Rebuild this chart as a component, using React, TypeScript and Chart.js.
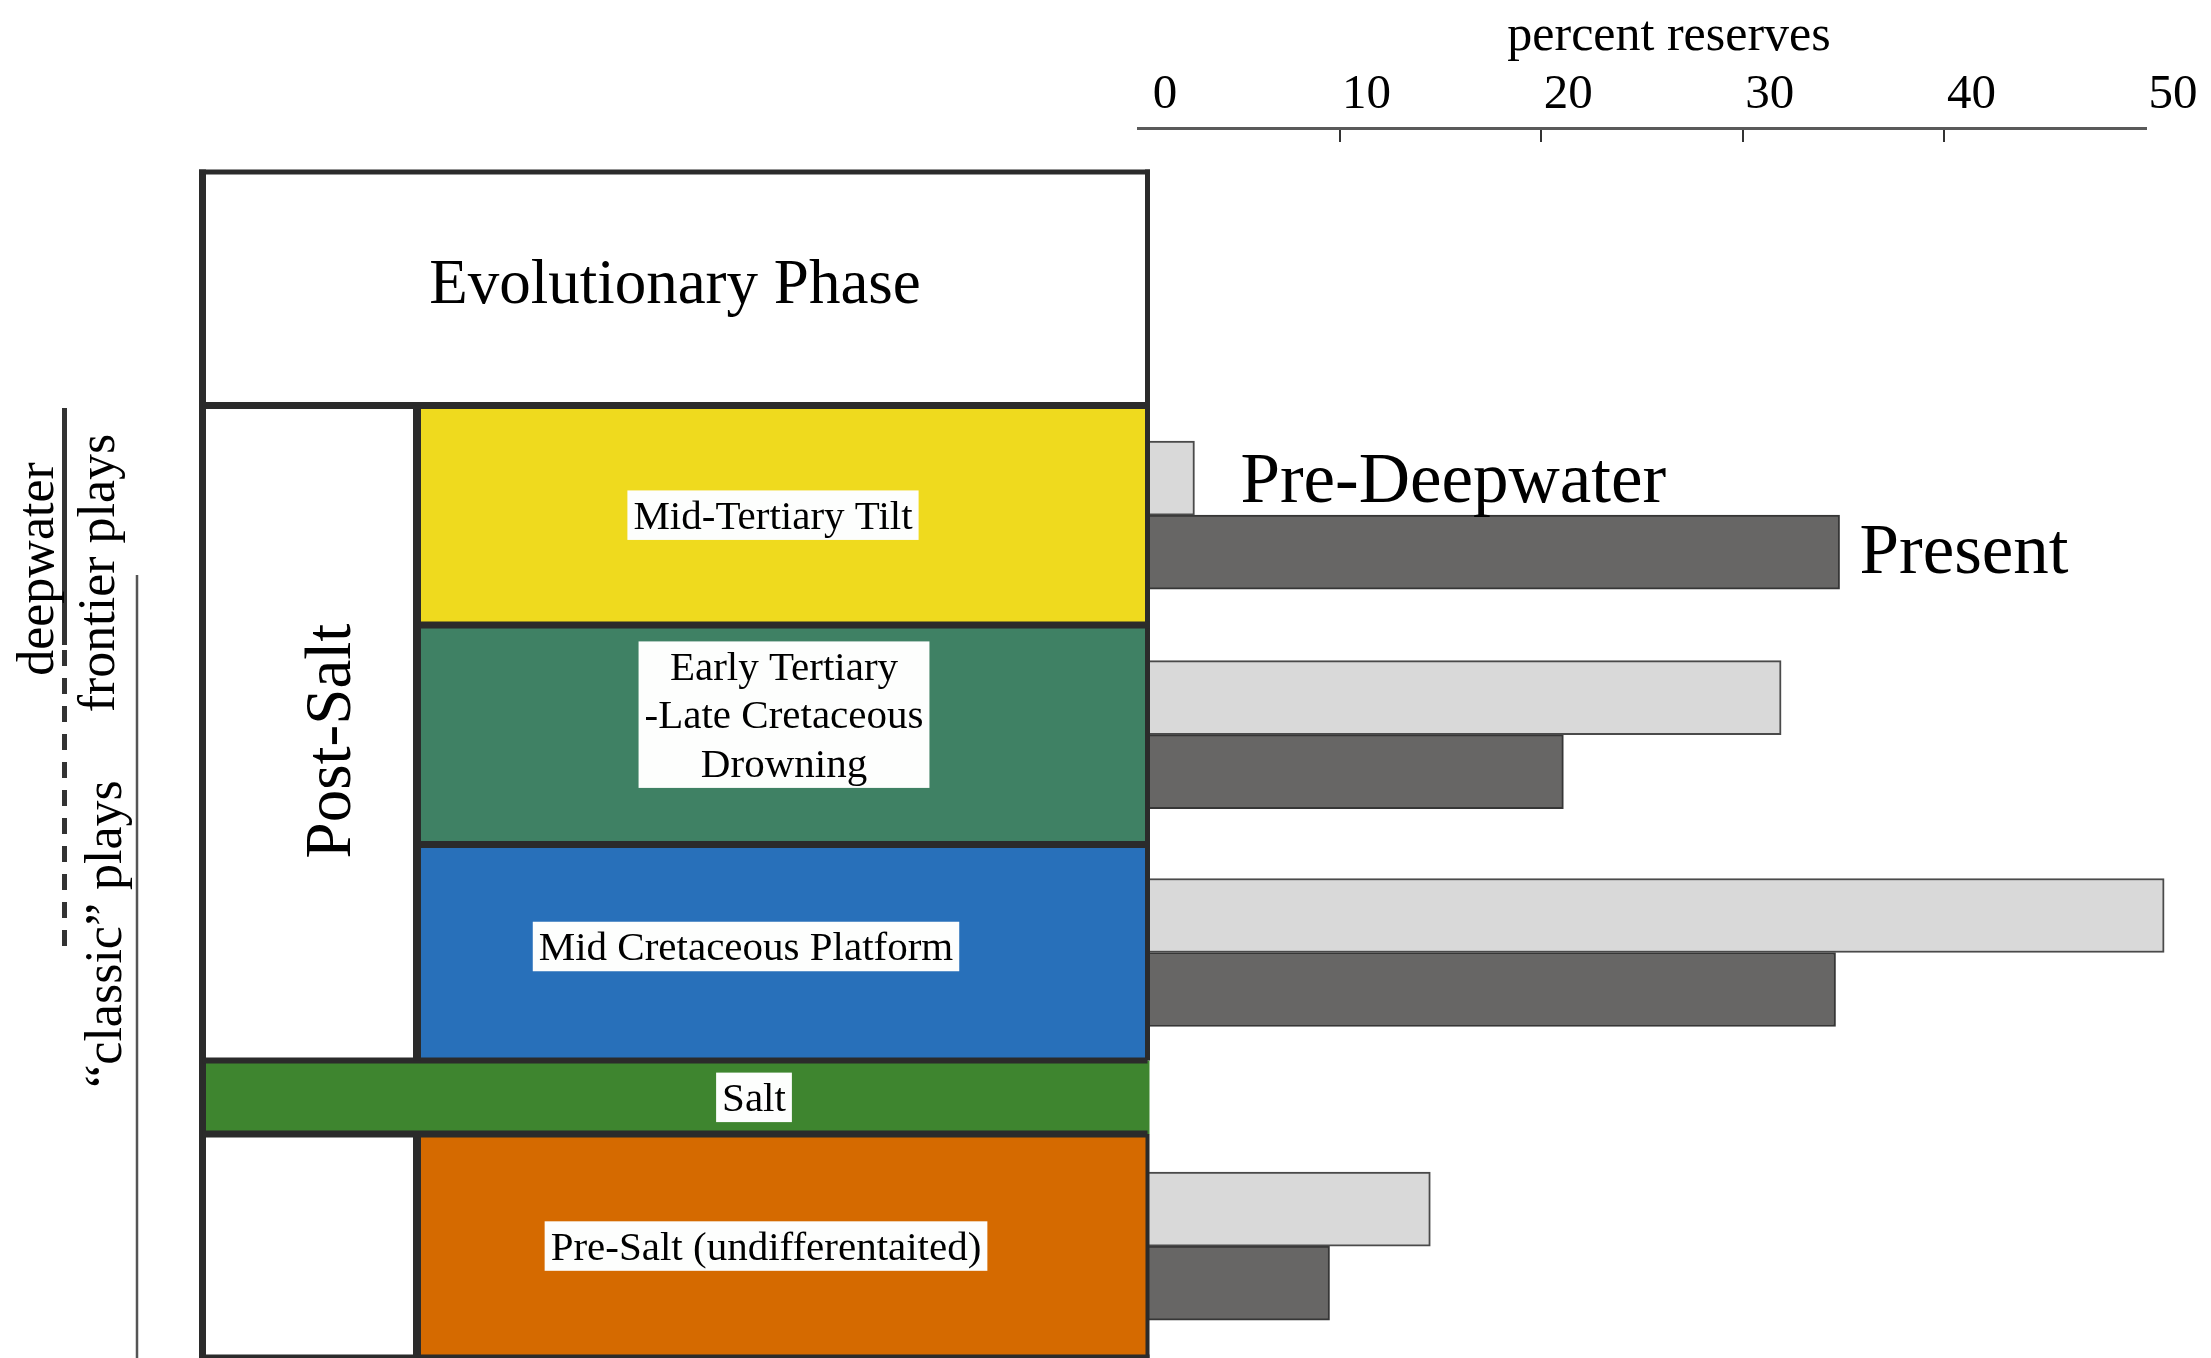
import { useEffect, useRef } from 'react';
import { Chart, registerables } from 'chart.js';

Chart.register(...registerables);

// ---------- data ----------
const rowNames = [
  'Mid-Tertiary Tilt',
  'Early Tertiary -Late Cretaceous Drowning',
  'Mid Cretaceous Platform',
  'Salt',
  'Pre-Salt (undifferentaited)',
];
const rowLabelLines = [
  ['Mid-Tertiary Tilt'],
  ['Early Tertiary', '-Late Cretaceous', 'Drowning'],
  ['Mid Cretaceous Platform'],
  ['Salt'],
  ['Pre-Salt (undifferentaited)'],
];
const seriesNames = ['Pre-Deepwater', 'Present'];
const preDeepwater = [2.8, 31.9, 50.9, null, 14.5];
const present = [34.8, 21.1, 34.6, null, 9.5];
const xTicks = [0, 10, 20, 30, 40, 50];
const axisTitle = 'percent reserves';
const headerText = 'Evolutionary Phase';
const groupText = 'Post-Salt';
const playTexts = ['deepwater', 'frontier plays', '\u201Cclassic\u201D plays'];

// ---------- layout / style ----------
const ROW_UNITS = [1, 1, 0.985, 0.335, 1.02];
const HEADER_UNITS = 1.064;
const GAP_UNITS = 0.2;
const ROW_COLORS = ['#EFDA1E', '#3F8164', '#2870BA', '#3E852F', '#D56A00'];
const LABEL_X = [773, 784, 746, 754, 766];
const LABEL_DY = [0, -20, -6, 0, 0];
const FRAME = { left: 202.5, col: 417, right: 1147.5 };
const LINE = '#2b2b2b';
const SERIF = '"Liberation Serif", "Times New Roman", serif';
const TICK_LABEL_OFFSET = 27;

const cum: number[] = [0];
ROW_UNITS.forEach((u, i) => cum.push(cum[i] + u));
const centers = ROW_UNITS.map((u, i) => cum[i] + u / 2);

function text(ctx: any, s: string, x: number, y: number, size: number, align = 'center', rotate = false) {
  ctx.save();
  ctx.translate(x, y);
  if (rotate) ctx.rotate(-Math.PI / 2);
  ctx.font = `${size}px ${SERIF}`;
  ctx.textAlign = align;
  ctx.textBaseline = 'alphabetic';
  ctx.fillStyle = '#000';
  ctx.fillText(s, 0, 0);
  ctx.restore();
}
function hLine(ctx: any, x1: number, x2: number, y: number, w: number, color = LINE) {
  ctx.save();
  ctx.strokeStyle = color;
  ctx.lineWidth = w;
  ctx.beginPath();
  ctx.moveTo(x1, y);
  ctx.lineTo(x2, y);
  ctx.stroke();
  ctx.restore();
}
function vLine(ctx: any, x: number, y1: number, y2: number, w: number, color = LINE, dash: number[] = []) {
  ctx.save();
  ctx.strokeStyle = color;
  ctx.lineWidth = w;
  ctx.setLineDash(dash);
  ctx.beginPath();
  ctx.moveTo(x, y1);
  ctx.lineTo(x, y2);
  ctx.stroke();
  ctx.restore();
}

const diagramPlugin = {
  id: 'phaseDiagram',
  afterDatasetsDraw(chart: any) {
    const ctx = chart.ctx;
    const ys = chart.scales.y;
    const xs = chart.scales.x;
    const py = (v: number) => ys.getPixelForValue(v);
    const { left: L, col: C, right: R } = FRAME;
    const top = py(-HEADER_UNITS);
    const b = cum.map(py);
    const bottom = b[b.length - 1];

    // axis title, centred over the tick labels
    const tx =
      (xs.getPixelForValue(xTicks[0]) + xs.getPixelForValue(xTicks[xTicks.length - 1])) / 2 + TICK_LABEL_OFFSET;
    text(ctx, axisTitle, tx, 50, 50);

    // fills
    ctx.save();
    ctx.fillStyle = '#fff';
    ctx.fillRect(L, top, R - L, b[0] - top);
    ctx.fillRect(L, b[0], C - L, b[3] - b[0]);
    ctx.fillRect(L, b[4], C - L, bottom - b[4]);
    ROW_UNITS.forEach((_, i) => {
      ctx.fillStyle = ROW_COLORS[i];
      const x0 = i === 3 ? L : C;
      const x1 = i === 3 ? R + 2 : R;
      ctx.fillRect(x0, b[i], x1 - x0, b[i + 1] - b[i]);
    });
    ctx.restore();

    // frame lines
    vLine(ctx, L, top - 2.5, bottom, 7);
    hLine(ctx, L - 3.5, R + 2.5, top, 5);
    vLine(ctx, R, top - 2.5, b[3], 5);
    vLine(ctx, R, b[4], bottom, 4);
    hLine(ctx, L, R + 2.5, b[0], 7);
    hLine(ctx, C, R + 2.5, b[1], 7);
    hLine(ctx, C, R + 2.5, b[2], 7);
    hLine(ctx, L, R, b[3], 6);
    hLine(ctx, L, R, b[4], 7);
    hLine(ctx, L, R + 2, bottom - 1.5, 4);
    vLine(ctx, C, b[0], b[3], 8);
    vLine(ctx, C, b[4], bottom, 8);

    // header & group text
    text(ctx, headerText, (L + R) / 2, (top + b[0]) / 2 + 14, 63);
    text(ctx, groupText, 350, (b[0] + b[3]) / 2 + 8, 65, 'center', true);

    // phase labels in white boxes
    ctx.save();
    ctx.font = `41px ${SERIF}`;
    rowLabelLines.forEach((lines, i) => {
      const cx = LABEL_X[i];
      const cy = (b[i] + b[i + 1]) / 2 + LABEL_DY[i];
      const lh = 48.5;
      const w = Math.max(...lines.map((l) => ctx.measureText(l).width)) + 12;
      const h = lines.length * lh + 1;
      ctx.fillStyle = '#fdfefd';
      ctx.fillRect(cx - w / 2, cy - h / 2, w, h);
      lines.forEach((l, j) => {
        text(ctx, l, cx, cy - ((lines.length - 1) / 2) * lh + 13.5 + j * lh, 41);
      });
    });
    ctx.restore();

    // left annotations (plays)
    vLine(ctx, 64.5, 408, 645, 5, '#333');
    vLine(ctx, 64.5, 650, 947, 5, '#333', [16, 12]);
    vLine(ctx, 137, 575, 1358, 2.5, '#555');
    text(ctx, playTexts[0], 53, 569, 52, 'center', true);
    text(ctx, playTexts[1], 113.5, 573, 52, 'center', true);
    text(ctx, playTexts[2], 121, 934, 52, 'center', true);

    // series labels next to the first group of bars
    const m0 = chart.getDatasetMeta(0).data[0];
    const m1 = chart.getDatasetMeta(1).data[0];
    if (m0) text(ctx, chart.data.datasets[0].label, m0.x + 46, m0.y + 23.5, 71, 'left');
    if (m1) text(ctx, chart.data.datasets[1].label, m1.x + 20, m1.y + 21, 71, 'left');
  },
};

function toPoints(values: (number | null)[]) {
  return values
    .map((v, i) => ({ x: v, y: centers[i], name: rowNames[i] }))
    .filter((p) => p.x !== null);
}

export default function App() {
  const ref = useRef<HTMLCanvasElement>(null);
  useEffect(() => {
    const chart = new Chart(ref.current as HTMLCanvasElement, {
      type: 'bar',
      data: {
        datasets: [
          {
            label: seriesNames[0],
            data: toPoints(preDeepwater) as any,
            backgroundColor: '#D9D9D9',
            borderColor: '#4a4a4a',
            borderWidth: 2,
            borderSkipped: false,
            barThickness: 74,
            clip: false as any,
          },
          {
            label: seriesNames[1],
            data: toPoints(present) as any,
            backgroundColor: '#676665',
            borderColor: '#363636',
            borderWidth: 2,
            borderSkipped: false,
            barThickness: 74,
            clip: false as any,
          },
        ],
      },
      options: {
        indexAxis: 'y',
        responsive: false,
        animation: false,
        events: [],
        layout: { padding: { left: 1138, right: 65, top: 0, bottom: 0 } },
        plugins: { legend: { display: false }, tooltip: { enabled: false } },
        scales: {
          x: {
            type: 'linear',
            position: 'top',
            offset: false,
            min: xTicks[0],
            max: xTicks[xTicks.length - 1],
            afterBuildTicks: (scale: any) => {
              scale.ticks = xTicks.map((v) => ({ value: v }));
            },
            afterFit: (scale: any) => {
              scale.height = 128;
            },
            ticks: {
              color: '#000',
              font: { family: SERIF, size: 49 },
              labelOffset: TICK_LABEL_OFFSET,
              padding: 17,
              maxRotation: 0,
              autoSkip: false,
            },
            grid: {
              offset: false,
              drawOnChartArea: false,
              drawTicks: true,
              tickLength: -14,
              lineWidth: 2,
              color: (c: any) =>
                c.tick && (c.tick.value === xTicks[0] || c.tick.value === xTicks[xTicks.length - 1])
                  ? 'rgba(0,0,0,0)'
                  : '#333',
            },
            border: { display: true, color: '#5a5a5a', width: 3 },
            title: { display: false, text: axisTitle },
          },
          y: {
            type: 'linear',
            display: false,
            reverse: true,
            offset: false,
            grid: { offset: false },
            min: -(HEADER_UNITS + GAP_UNITS),
            max: cum[cum.length - 1],
          },
        },
      },
      plugins: [diagramPlugin],
    } as any);
    return () => chart.destroy();
  }, []);

  return (
    <div style={{ position: 'fixed', left: 0, top: 0, width: 2211, height: 1358, background: '#fff', overflow: 'hidden' }}>
      <canvas ref={ref} width={2211} height={1358} style={{ display: 'block' }} />
    </div>
  );
}
